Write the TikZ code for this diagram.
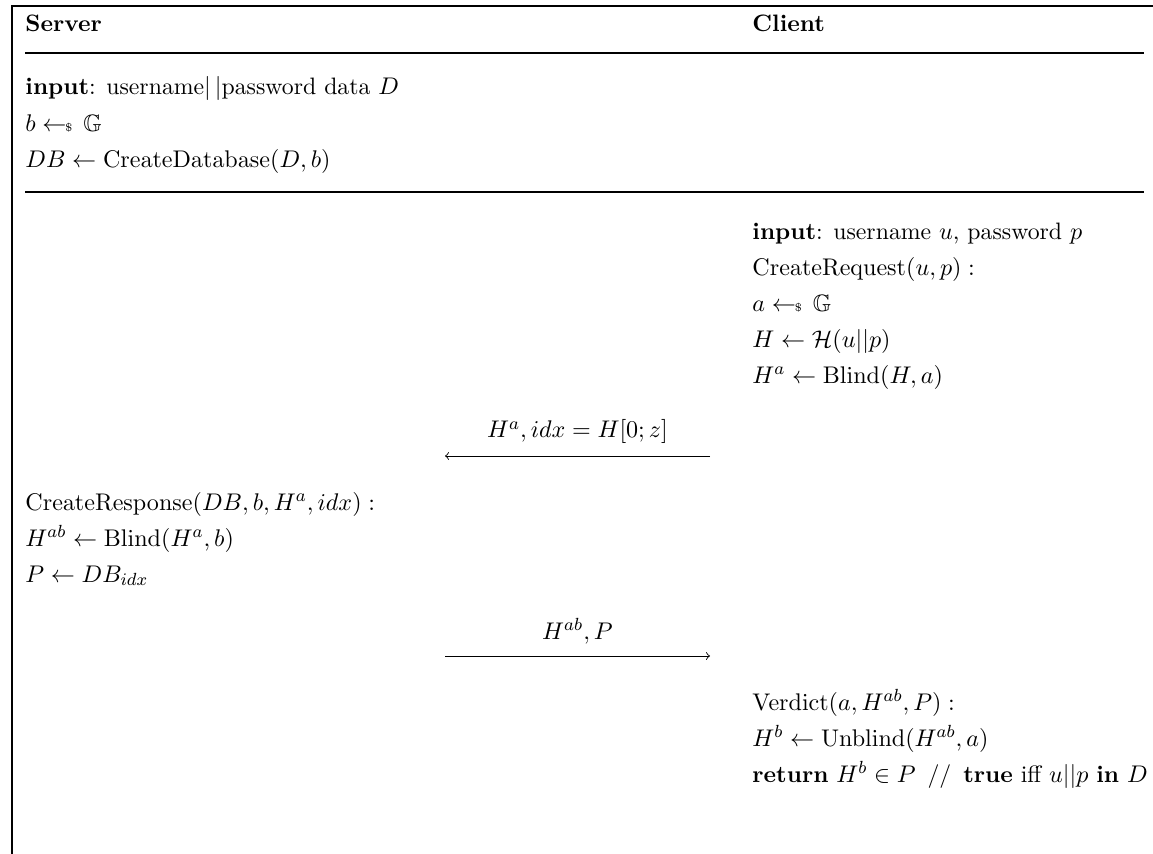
\documentclass[tikz,border=0pt]{standalone}
\usepackage{amsmath}
\usepackage{amssymb}
\newcommand{\sampleto}{\mathrel{\leftarrow\!\!{\scriptscriptstyle\$}}\,}

\begin{document}
\begin{tikzpicture}[x=0.4545pt, y=-0.4545pt,
    font=\fontsize{10.8pt}{13pt}\selectfont,
    txt/.style={anchor=base west, inner sep=0pt},
    rule/.style={line width=0.6pt},
    frame/.style={line width=0.8pt},
    msg/.style={->, line width=0.4pt}]

    \useasboundingbox (0,0) rectangle (1153,854);

    % Frame and rules
    \draw[frame] (12,854) -- (12,6) -- (1153,6);
    \draw[rule] (25,53) -- (1144,53);
    \draw[rule] (25,192) -- (1144,192);

    % Headers
    \node[txt] (Server) at (25,32) {\textbf{Server}};
    \node[txt] (Client) at (752,32) {\textbf{Client}};

    % Server setup
    \node[txt] (SInput) at (25,95) {\textbf{input}: username$|\,|$password data $D$};
    \node[txt] (SSample) at (25,131) {$b \sampleto \mathbb{G}$};
    \node[txt] (SDatabase) at (25,167) {$DB \leftarrow \mathrm{CreateDatabase}(D,b)$};

    % Client request
    \node[txt] (CInput) at (752,239) {\textbf{input}: username $u$, password $p$};
    \node[txt] (CRequest) at (752,275) {$\mathrm{CreateRequest}(u,p):$};
    \node[txt] (CSample) at (752,311) {$a \sampleto \mathbb{G}$};
    \node[txt] (CHash) at (752,347) {$H \leftarrow \mathcal{H}(u||p)$};
    \node[txt] (CBlind) at (752,383) {$H^a \leftarrow \mathrm{Blind}(H,a)$};

    % Server response
    \node[txt] (SResponse) at (25,510) {$\mathrm{CreateResponse}(DB,b,H^a,idx):$};
    \node[txt] (SBlind) at (25,546) {$H^{ab} \leftarrow \mathrm{Blind}(H^a,b)$};
    \node[txt] (SLookup) at (25,582) {$P \leftarrow DB_{idx}$};

    % Client verdict
    \node[txt] (CVerdict) at (752,710) {$\mathrm{Verdict}(a,H^{ab},P):$};
    \node[txt] (CUnblind) at (752,746) {$H^b \leftarrow \mathrm{Unblind}(H^{ab},a)$};
    \node[txt] (CReturn) at (752,782) {\textbf{return} $H^b \in P$ \,//\, \textbf{true} iff $u||p$ \textbf{in} $D$};

    % Messages
    \coordinate (ReqFrom) at (710,456);
    \coordinate (ReqTo) at (445,456);
    \coordinate (ResFrom) at (445,656);
    \coordinate (ResTo) at (710,656);
    \draw[msg] (ReqFrom) -- (ReqTo) node[midway, above=2pt] {$H^a, idx = H[0;z]$};
    \draw[msg] (ResFrom) -- (ResTo) node[midway, above=2pt] {$H^{ab}, P$};

\end{tikzpicture}
\end{document}
